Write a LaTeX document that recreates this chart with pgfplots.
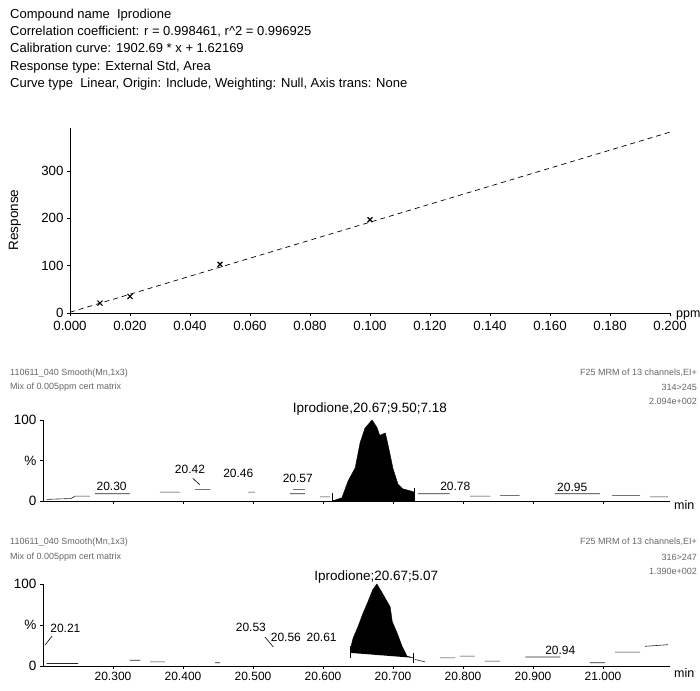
\documentclass[border=0pt]{standalone}
\usepackage{fontspec}
\setmainfont{Liberation Sans}
\usepackage{pgfplots}
\pgfplotsset{compat=1.18}

\pgfplotsset{
  base/.style={
    scale only axis,
    axis lines=left,
    axis line style={-, line width=0.6pt},
    tick style={black, line width=0.5pt},
    tick align=outside,
    major tick length=3pt,
    /pgf/number format/assume math mode=true,
    clip=false,
    unbounded coords=jump,
  },
  chrom/.style={
    base,
    width=627pt,
    xmin=20.2, xmax=21.0957,
    ymin=0, ymax=100,
    ytick={0,50,100},
    yticklabels={0,\%,100},
    xtick={20.3,20.4,20.5,20.6,20.7,20.8,20.9,21.0},
    xticklabel style={font=\fontsize{12}{14}\selectfont},
    yticklabel style={font=\fontsize{13.5}{15}\selectfont},
  },
  noise/.style={black!85, line width=0.6pt},
}
\tikzset{lab/.style={font=\fontsize{12}{14}\selectfont}}

\begin{document}
\begin{tikzpicture}[x=1pt,y=1pt]
\path[use as bounding box] (0,0) rectangle (700,690);

% header block
\begin{scope}[every node/.style={anchor=base west, inner sep=0pt, font=\fontsize{13}{15}\selectfont}]
\node at (10,671.5) {Compound name\ \ Iprodione};
\node at (10,654.5) {Correlation coefficient: r = 0.998461, r\^{}2 = 0.996925};
\node at (10,637) {Calibration curve: 1902.69 * x + 1.62169};
\node at (10,619.5) {Response type: External Std, Area};
\node at (10,602) {Curve type\ \ Linear, Origin: Include, Weighting: Null, Axis trans: None};
\end{scope}

% calibration curve
\begin{axis}[base,
  at={(70pt,377pt)}, anchor=south west,
  width=600pt, height=184.6pt,
  xmin=0, xmax=0.2, ymin=0, ymax=390,
  xtick={0,0.02,0.04,0.06,0.08,0.1,0.12,0.14,0.16,0.18,0.2},
  xticklabels={0.000,0.020,0.040,0.060,0.080,0.100,0.120,0.140,0.160,0.180,0.200},
  ytick={0,100,200,300},
  tick label style={font=\fontsize{13.3}{15}\selectfont},
  xticklabel style={yshift=-1.5pt},
]
\addplot[black, line width=0.7pt, dash pattern=on 5pt off 4pt] coordinates {(0,1.62) (0.2,382.16)};
\addplot[only marks, mark=x, mark size=3.5pt, line width=1.1pt, black] coordinates {
  (0.01,21) (0.02,35) (0.05,103) (0.1,197)
};
\end{axis}
\node[rotate=90, font=\fontsize{13.5}{15}\selectfont] at (15,470) {Response};
\node[anchor=base west, inner sep=0pt, font=\fontsize{12.5}{14}\selectfont] at (676,372) {ppm};

% chromatogram 1
\begin{scope}[every node/.style={inner sep=0pt, font=\fontsize{9}{11}\selectfont, text=black!60}]
\node[anchor=base west] at (10,314) {110611\_040 Smooth(Mn,1x3)};
\node[anchor=base west] at (10,300) {Mix of 0.005ppm cert matrix};
\node[anchor=base east] at (697,314) {F25 MRM of 13 channels,EI+};
\node[anchor=base east] at (697,299) {314>245};
\node[anchor=base east] at (697,285) {2.094e+002};
\end{scope}
\begin{axis}[chrom,
  at={(43pt,189pt)}, anchor=south west,
  height=81pt,
  xticklabels={},
]
\addplot[fill=black, draw=black, line width=0.4pt] coordinates {
  (20.613,0) (20.620,2) (20.627,4) (20.636,25) (20.646,41) (20.653,72)
  (20.660,90) (20.670,100) (20.677,91) (20.681,81) (20.689,84) (20.693,69)
  (20.700,40) (20.707,21) (20.714,15) (20.727,12) (20.730,11) (20.730,0)
};
\addplot[black, line width=0.8pt] coordinates {(20.613,-1) (20.613,10) (20.613,nan) (20.730,-1) (20.730,16)};
\addplot[noise] coordinates {
  (20.205,2) (20.24,3) (20.246,6) (20.267,6) (20.267,nan)
  (20.274,9) (20.324,9) (20.324,nan)
  (20.367,11) (20.396,11) (20.396,nan)
  (20.417,14) (20.439,14) (20.439,nan)
  (20.493,11) (20.503,11) (20.503,nan)
  (20.553,9) (20.574,9) (20.574,nan)
  (20.557,14) (20.574,14) (20.574,nan)
  (20.596,5) (20.610,5) (20.610,nan)
  (20.736,9) (20.781,9) (20.781,nan)
  (20.810,6) (20.839,6) (20.839,nan)
  (20.853,7) (20.881,7) (20.881,nan)
  (20.931,9) (20.996,9) (20.996,nan)
  (21.013,7) (21.053,7) (21.053,nan)
  (21.067,5) (21.093,5)
};
\addplot[black, line width=0.6pt] coordinates {(20.414,28) (20.424,20)};
\node[lab] at (axis cs:20.298,18.5) {20.30};
\node[lab] at (axis cs:20.410,39.5) {20.42};
\node[lab] at (axis cs:20.479,34.6) {20.46};
\node[lab] at (axis cs:20.564,28.4) {20.57};
\node[lab] at (axis cs:20.789,18.5) {20.78};
\node[lab] at (axis cs:20.956,17.3) {20.95};
\node[font=\fontsize{13.5}{15}\selectfont] at (axis cs:20.667,113.6) {Iprodione,20.67;9.50;7.18};
\end{axis}
\node[anchor=west, inner sep=0pt, font=\fontsize{12.5}{14}\selectfont] at (674,185) {min};

% chromatogram 2
\begin{scope}[every node/.style={inner sep=0pt, font=\fontsize{9}{11}\selectfont, text=black!60}]
\node[anchor=base west] at (10,145) {110611\_040 Smooth(Mn,1x3)};
\node[anchor=base west] at (10,131) {Mix of 0.005ppm cert matrix};
\node[anchor=base east] at (697,145) {F25 MRM of 13 channels,EI+};
\node[anchor=base east] at (697,130) {316>247};
\node[anchor=base east] at (697,116) {1.390e+002};
\end{scope}
\begin{axis}[chrom,
  at={(43pt,24pt)}, anchor=south west,
  height=82pt,
  xticklabels={20.300,20.400,20.500,20.600,20.700,20.800,20.900,21.000},
]
\addplot[fill=black, draw=black, line width=0.4pt] coordinates {
  (20.639,16) (20.640,24) (20.643,34) (20.650,48) (20.657,64) (20.664,78)
  (20.671,93) (20.677,100) (20.684,90) (20.690,81) (20.696,72) (20.699,54)
  (20.706,40) (20.713,24) (20.720,12) (20.729,10)
};
\addplot[black, line width=0.8pt] coordinates {(20.639,10) (20.639,25) (20.639,nan) (20.729,4) (20.729,16)};
\addplot[noise] coordinates {
  (20.205,3) (20.250,3) (20.250,nan)
  (20.324,7) (20.339,7) (20.339,nan)
  (20.353,5) (20.374,5) (20.374,nan)
  (20.446,4) (20.453,4) (20.453,nan)
  (20.731,8) (20.746,5) (20.746,nan)
  (20.767,10) (20.789,10) (20.789,nan)
  (20.796,12) (20.817,12) (20.817,nan)
  (20.831,6) (20.853,6) (20.853,nan)
  (20.889,11) (20.939,11) (20.939,nan)
  (20.981,4) (21.003,4) (21.003,nan)
  (21.017,17) (21.053,17) (21.053,nan)
  (21.060,24) (21.093,26) (21.093,nan)
};
\addplot[black, line width=0.6pt] coordinates {(20.203,25.6) (20.213,36.6) (20.213,nan) (20.517,35.4) (20.529,23.2)};
\node[lab] at (axis cs:20.232,46) {20.21};
\node[lab] at (axis cs:20.497,47.6) {20.53};
\node[lab] at (axis cs:20.547,35.4) {20.56};
\node[lab] at (axis cs:20.598,35.4) {20.61};
\node[lab] at (axis cs:20.939,19.5) {20.94};
\node[font=\fontsize{13.5}{15}\selectfont] at (axis cs:20.676,108.5) {Iprodione;20.67;5.07};
\end{axis}
\node[anchor=west, inner sep=0pt, font=\fontsize{12.5}{14}\selectfont] at (674,17) {min};
\end{tikzpicture}
\end{document}
